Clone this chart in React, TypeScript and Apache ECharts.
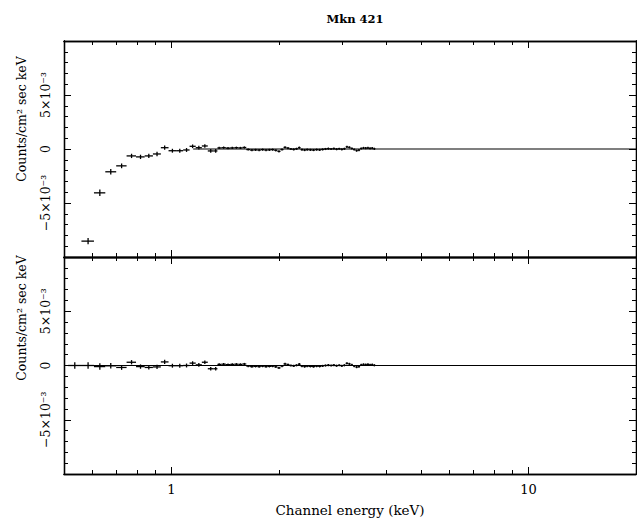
import React, { useEffect, useRef } from 'react';
import * as echarts from 'echarts';

const chartTitle = 'Mkn 421';
const xAxisName = 'Channel energy (keV)';
const yAxisName = 'Counts/cm² sec keV';
const xMin = 0.5;
const xMax = 20;
const xMinorTicks = [0.6, 0.7, 0.8, 0.9, 1, 2, 3, 4, 5, 6, 7, 8, 9, 10];
const xMajorTicks = [1, 10];
// y values are in units of 10^-3 counts/cm^2/s/keV
const yMin = -10;
const yMax = 10;
const yMajorTicks = [-5, 0, 5];

// low-energy channels (keV)
const lowEnergies = [0.536, 0.584, 0.63, 0.676, 0.725, 0.773, 0.819, 0.864, 0.911, 0.957, 1.006, 1.055, 1.102, 1.146, 1.193, 1.24, 1.288, 1.33];
// top panel (first channel is off scale)
const topLowValues = [null, -8.53, -4.06, -2.11, -1.56, -0.64, -0.73, -0.64, -0.46, 0.12, -0.16, -0.16, -0.09, 0.25, 0.12, 0.28, -0.18, -0.18];
// bottom panel
const bottomLowValues = [0, 0, -0.1, -0.03, -0.18, 0.3, -0.1, -0.18, -0.13, 0.33, -0.02, -0.02, 0, 0.22, 0.06, 0.3, -0.3, -0.3];
const lowErrors = [0.3, 0.3, 0.3, 0.25, 0.22, 0.2, 0.2, 0.2, 0.2, 0.2, 0.18, 0.18, 0.18, 0.17, 0.17, 0.17, 0.17, 0.17];

// dense channels 1.36 - 3.7 keV
const denseEnergies = [1.36, 1.4, 1.44, 1.48, 1.52, 1.56, 1.6, 1.64, 1.68, 1.72, 1.76, 1.8, 1.84, 1.88, 1.92, 1.96, 2.0, 2.04, 2.08, 2.12, 2.16, 2.2, 2.24, 2.28, 2.32, 2.36, 2.4, 2.45, 2.5, 2.55, 2.6, 2.65, 2.7, 2.75, 2.8, 2.85, 2.9, 2.95, 3.0, 3.05, 3.1, 3.15, 3.2, 3.25, 3.3, 3.35, 3.4, 3.45, 3.5, 3.55, 3.6, 3.65, 3.7];
const denseValues = [0.1, 0.12, 0.08, 0.1, 0.12, 0.1, 0.14, -0.05, -0.1, -0.08, -0.1, -0.06, -0.1, -0.08, -0.06, -0.12, -0.22, -0.05, 0.15, 0.08, 0, -0.04, 0.02, 0.12, -0.06, -0.1, -0.06, -0.08, -0.1, -0.06, -0.08, -0.04, 0, 0.03, 0, 0.04, -0.02, 0.02, -0.03, 0.02, 0.2, 0.15, 0.05, -0.05, -0.15, -0.1, 0.05, 0.1, 0.08, 0.1, 0.06, 0.08, 0.02];
const denseError = 0.1;

const topModelStart = 1.15;
const bottomModelStart = 0.5;
const modelValue = 0;

const FONT = '"DejaVu Serif", "Liberation Serif", serif';
const BLACK = '#000';

function buildPoints(values: (number | null)[]) {
  const energies = [...lowEnergies, ...denseEnergies];
  const errs = [...lowErrors, ...denseEnergies.map(() => denseError)];
  const n = energies.length;
  const pts: number[][] = [];
  for (let i = 0; i < n; i++) {
    const v = values[i];
    if (v === null || v === undefined) continue;
    const e = energies[i];
    const lo = i > 0 ? Math.sqrt(energies[i - 1] * e) : e / Math.sqrt(energies[1] / e);
    const hi = i < n - 1 ? Math.sqrt(energies[i + 1] * e) : e * Math.sqrt(e / energies[n - 2]);
    pts.push([e, v, errs[i], lo, hi]);
  }
  return pts;
}

function xAxes(gridIndex: number, showLabels: boolean) {
  const base = {
    type: 'log', logBase: 10, min: xMin, max: xMax, gridIndex,
    splitLine: { show: false },
    axisLine: { show: true, onZero: false, lineStyle: { color: BLACK, width: 1.3 } },
  };
  const tickStyle = { color: BLACK, width: 1 };
  const major = (position: string, labels: boolean) => ({
    ...base, position,
    axisTick: { show: true, inside: true, length: 7, customValues: xMajorTicks, lineStyle: tickStyle },
    axisLabel: labels
      ? { show: true, customValues: xMajorTicks, margin: 9, fontFamily: FONT, fontSize: 13, color: BLACK,
          formatter: (v: number) => String(Math.round(v)) }
      : { show: false },
    ...(labels ? { name: xAxisName, nameLocation: 'middle', nameGap: 29,
      nameTextStyle: { fontFamily: FONT, fontSize: 13.5, color: BLACK } } : {}),
  });
  const minor = (position: string) => ({
    ...base, position,
    axisTick: { show: true, inside: true, length: 4, customValues: xMinorTicks, lineStyle: tickStyle },
    axisLabel: { show: false },
  });
  return [minor('bottom'), major('bottom', showLabels), minor('top'), major('top', false)];
}

function yAxes(gridIndex: number) {
  const base = {
    type: 'value', min: yMin, max: yMax, gridIndex,
    splitLine: { show: false },
    axisLine: { show: true, onZero: false, lineStyle: { color: BLACK, width: 1.3 } },
  };
  const tickStyle = { color: BLACK, width: 1 };
  const fmt = (v: number) => {
    if (v === 0) return '0';
    if (v > 0) return v + '×10⁻³';
    return '−' + Math.abs(v) + '×10⁻³';
  };
  const minor = (position: string) => ({
    ...base, position, interval: 1,
    axisTick: { show: true, inside: true, length: 4, lineStyle: tickStyle },
    axisLabel: { show: false },
  });
  const major = (position: string, labels: boolean) => ({
    ...base, position, interval: 5,
    axisTick: { show: true, inside: true, length: 7, lineStyle: tickStyle },
    axisLabel: labels
      ? { show: true, customValues: yMajorTicks, rotate: 90, margin: 12, fontFamily: FONT, fontSize: 12.5, color: BLACK, formatter: fmt }
      : { show: false },
  });
  return [minor('left'), major('left', true), minor('right'), major('right', false)];
}

const renderCross = (params: any, api: any) => {
  const x = api.value(0);
  const y = api.value(1);
  const err = api.value(2);
  const lo = api.value(3);
  const hi = api.value(4);
  const pL = api.coord([lo, y]);
  const pR = api.coord([hi, y]);
  const pT = api.coord([x, y + err]);
  const pB = api.coord([x, y - err]);
  const style = { stroke: BLACK, lineWidth: 1.3 };
  return {
    type: 'group',
    children: [
      { type: 'line', shape: { x1: pL[0], y1: pL[1], x2: pR[0], y2: pR[1] }, style },
      { type: 'line', shape: { x1: pT[0], y1: pT[1], x2: pB[0], y2: pB[1] }, style },
    ],
  };
};

export default function App() {
  const ref = useRef<HTMLDivElement>(null);
  useEffect(() => {
    if (!ref.current) return;
    const chart = echarts.init(ref.current, null, { renderer: 'svg' });
    const option: any = {
      animation: false,
      backgroundColor: '#fff',
      title: {
        text: chartTitle, left: 350, top: 8, textAlign: 'center',
        textStyle: { fontFamily: FONT, fontSize: 11.5, fontWeight: 'bold', color: BLACK },
      },
      grid: [
        { left: 64, top: 41, width: 572, height: 216 },
        { left: 64, top: 257, width: 572, height: 218 },
      ],
      xAxis: [...xAxes(0, false), ...xAxes(1, true)],
      yAxis: [...yAxes(0), ...yAxes(1)],
      graphic: [
        { type: 'text', x: 21, y: 119, rotation: Math.PI / 2,
          style: { text: yAxisName, fill: BLACK, font: '12.5px "DejaVu Serif"', textAlign: 'center', textVerticalAlign: 'middle' } },
        { type: 'text', x: 21, y: 318, rotation: Math.PI / 2,
          style: { text: yAxisName, fill: BLACK, font: '12.5px "DejaVu Serif"', textAlign: 'center', textVerticalAlign: 'middle' } },
      ],
      series: [
        { type: 'custom', xAxisIndex: 0, yAxisIndex: 0, clip: true, renderItem: renderCross,
          encode: { x: 0, y: 1 }, data: buildPoints(topLowValues.concat(denseValues)) },
        { type: 'line', xAxisIndex: 0, yAxisIndex: 0, showSymbol: false, silent: true,
          lineStyle: { color: BLACK, width: 1.1 }, data: [[topModelStart, modelValue], [xMax, modelValue]] },
        { type: 'custom', xAxisIndex: 4, yAxisIndex: 4, clip: true, renderItem: renderCross,
          encode: { x: 0, y: 1 }, data: buildPoints((bottomLowValues as (number | null)[]).concat(denseValues)) },
        { type: 'line', xAxisIndex: 4, yAxisIndex: 4, showSymbol: false, silent: true,
          lineStyle: { color: BLACK, width: 1.1 }, data: [[bottomModelStart, modelValue], [xMax, modelValue]] },
      ],
    };
    chart.setOption(option);
    return () => chart.dispose();
  }, []);
  return <div ref={ref} style={{ position: 'fixed', left: 0, top: 0, width: 637, height: 518 }} />;
}
